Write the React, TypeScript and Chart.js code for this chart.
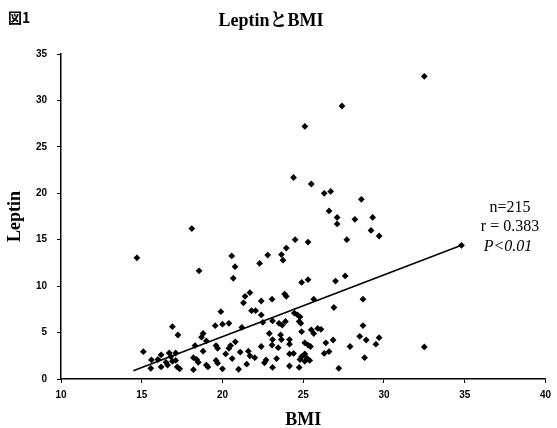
import React, { useEffect, useRef } from "react";
import { Chart, registerables } from "chart.js";

Chart.register(...registerables);

// BMI (x) values of each subject
const bmiValues: number[] = [
  32.5, 27.4, 25.1, 24.4, 25.5, 26.3, 26.7, 28.6, 26.6, 27.1, 27.1, 28.2, 29.3, 29.2, 29.7, 24.5, 25.3, 27.7,
  23.95, 23.65, 23.75, 22.8, 22.3, 18.1, 14.7, 18.55, 20.57, 20.78, 20.67, 24.9, 25.3, 27.0, 27.6, 34.8,
  21.4, 21.3, 21.7, 21.8, 22.05, 22.4, 23.07, 23.85, 23.95, 25.65, 26.9, 28.7, 19.9, 19.55, 20.0, 20.4, 21.2,
  16.9, 17.24, 22.4, 22.5, 23.1, 23.5, 23.7, 23.9, 24.45, 24.65, 24.8, 24.75, 24.85, 24.9, 25.5, 25.65, 25.9,
  26.1, 28.7,
  15.1, 15.6, 15.56, 16.2, 16.7, 16.8, 16.0, 16.5, 16.2, 16.6, 16.9, 17.1, 17.1, 17.2, 17.35, 18.3, 18.7, 19.0,
  18.8, 18.2, 18.4, 18.2, 18.8, 18.5, 19.0, 19.1, 19.6, 19.7, 19.6, 19.7, 20.0, 20.2, 20.4, 20.5, 20.6, 20.8,
  21.0, 21.1, 21.6, 21.7, 22.0, 21.5, 22.4,
  22.9, 23.1, 23.6, 23.65, 24.15, 24.15, 23.07, 23.45, 25.1, 25.3, 25.45, 26.4, 26.85, 28.5, 28.9, 29.7, 29.5,
  27.9, 24.15, 24.4, 25.1, 25.2, 25.4, 25.1, 24.9, 24.8, 26.3, 26.6, 28.8, 23.35, 22.6, 22.7, 23.1, 24.15,
  24.75, 27.2, 32.5,
];

// Leptin (y) values of each subject, same order as bmiValues
const leptinValues: number[] = [
  32.6, 29.4, 27.2, 21.7, 21.0, 20.0, 20.2, 19.35, 18.1, 17.4, 16.7, 17.2, 17.4, 16.0, 15.4, 15.0, 14.75, 15.0,
  14.1, 13.4, 12.8, 13.35, 12.45, 16.2, 13.05, 11.65, 13.25, 12.1, 10.85, 10.4, 10.7, 10.55, 11.1, 14.4,
  8.9, 8.2, 9.3, 7.36, 7.36, 8.4, 8.6, 9.15, 8.9, 8.6, 7.7, 8.6, 7.25, 5.74, 5.9, 6.0, 5.55,
  5.63, 4.74, 6.9, 6.1, 6.25, 6.0, 5.8, 6.2, 7.1, 6.9, 6.7, 6.2, 6.0, 5.1, 5.3, 4.9, 5.45,
  5.35, 5.75,
  2.94, 2.05, 1.15, 2.6, 2.8, 2.4, 2.1, 1.8, 1.3, 1.5, 1.9, 2.8, 2.0, 1.3, 1.1, 3.6, 4.5, 4.1,
  4.9, 2.3, 2.1, 1.0, 3.0, 1.8, 1.5, 1.3, 3.6, 3.3, 2.0, 1.7, 1.1, 2.7, 3.3, 3.6, 2.2, 4.0,
  1.05, 2.9, 3.0, 2.5, 2.3, 1.6, 3.5,
  4.9, 4.25, 4.75, 4.25, 4.25, 3.75, 3.65, 3.37, 3.9, 3.65, 3.5, 3.9, 4.2, 4.6, 4.2, 4.45, 3.75,
  3.5, 2.7, 2.75, 2.7, 2.3, 2.0, 1.9, 2.4, 2.1, 2.75, 2.95, 2.3, 2.2, 1.75, 2.05, 1.25, 1.4,
  1.25, 1.15, 3.45,
];

// Regression line end points
const regressionX: number[] = [14.48, 34.8];
const regressionY: number[] = [0.9, 14.4];

const xTickValues: number[] = [10, 15, 20, 25, 30, 35, 40];
const yTickValues: number[] = [0, 5, 10, 15, 20, 25, 30, 35];

const figureLabel = "図1";
const chartTitle = "LeptinとBMI";
const xAxisTitle = "BMI";
const yAxisTitle = "Leptin";
const statLines: string[] = ["n=215", "r = 0.383", "P<0.01"];

const SERIF = "'Liberation Serif', 'Noto Serif CJK JP', 'Noto Sans CJK JP', serif";

const textPlugin = {
  id: "textOverlay",
  afterDraw(chart: any) {
    const ctx: CanvasRenderingContext2D = chart.ctx;
    const area = chart.chartArea;
    ctx.save();
    ctx.fillStyle = "#000";

    ctx.textAlign = "left";
    ctx.textBaseline = "alphabetic";
    ctx.font = "bold 14px 'Noto Sans CJK JP', sans-serif";
    ctx.fillText(figureLabel, 8, 23);

    ctx.textAlign = "center";
    ctx.font = `bold 18px ${SERIF}`;
    ctx.fillText(chartTitle, 271, 26);

    ctx.font = `bold 18px ${SERIF}`;
    ctx.fillText(xAxisTitle, (area.left + area.right) / 2, 425);

    ctx.save();
    ctx.translate(15, (area.top + area.bottom) / 2);
    ctx.rotate(-Math.PI / 2);
    ctx.textBaseline = "middle";
    ctx.fillText(yAxisTitle, 0, 0);
    ctx.restore();

    ctx.textAlign = "center";
    ctx.textBaseline = "alphabetic";
    ctx.font = `16px ${SERIF}`;
    ctx.fillText(statLines[0], 510, 212);
    ctx.fillText(statLines[1], 510, 231);
    ctx.font = `italic 16px ${SERIF}`;
    ctx.fillText(statLines[2], 508, 251);

    ctx.restore();
  },
};

export default function App() {
  const canvasRef = useRef<HTMLCanvasElement | null>(null);

  useEffect(() => {
    const canvas = canvasRef.current;
    if (!canvas) return;

    const points = bmiValues.map((x, i) => ({ x, y: leptinValues[i] }));
    const linePoints = regressionX.map((x, i) => ({ x, y: regressionY[i] }));

    const tickFont = { family: "'Liberation Sans', Arial, sans-serif", size: 10, weight: "bold" as const };

    const chart = new Chart(canvas, {
      type: "scatter",
      data: {
        datasets: [
          {
            type: "line",
            label: "regression",
            data: linePoints,
            borderColor: "#000",
            borderWidth: 1.6,
            pointRadius: 0,
            fill: false,
          } as any,
          {
            type: "scatter",
            label: "Leptin",
            data: points,
            pointStyle: "rectRot",
            pointRadius: 3.4,
            backgroundColor: "#000",
            borderColor: "#000",
            borderWidth: 0,
          },
        ],
      },
      options: {
        responsive: false,
        animation: false,
        layout: { padding: { left: 0, top: 54, right: 7, bottom: 0 } },
        plugins: {
          legend: { display: false },
          title: { display: false },
          tooltip: { enabled: false },
        },
        scales: {
          x: {
            type: "linear",
            min: xTickValues[0],
            max: xTickValues[xTickValues.length - 1],
            afterFit: (scale: any) => {
              scale.height = 49;
            },
            afterBuildTicks: (scale: any) => {
              scale.ticks = xTickValues.map((v) => ({ value: v }));
            },
            ticks: {
              color: "#000",
              font: tickFont,
              padding: 6,
              maxRotation: 0,
            },
            grid: {
              display: true,
              drawOnChartArea: false,
              drawTicks: true,
              tickLength: 4,
              color: "#000",
              lineWidth: 1,
            },
            border: { display: true, color: "#000", width: 1.5 },
          },
          y: {
            type: "linear",
            min: yTickValues[0],
            max: yTickValues[yTickValues.length - 1],
            afterFit: (scale: any) => {
              scale.width = 61;
            },
            afterBuildTicks: (scale: any) => {
              scale.ticks = yTickValues.map((v) => ({ value: v }));
            },
            ticks: {
              color: "#000",
              font: tickFont,
              padding: 10,
            },
            grid: {
              display: true,
              drawOnChartArea: false,
              drawTicks: true,
              tickLength: 4,
              color: "#000",
              lineWidth: 1,
            },
            border: { display: true, color: "#000", width: 1.5 },
          },
        },
      },
      plugins: [textPlugin],
    });

    return () => {
      chart.destroy();
    };
  }, []);

  return (
    <div style={{ position: "absolute", left: 0, top: 0, width: 557, height: 428, background: "#fff" }}>
      <canvas ref={canvasRef} width={557} height={428} style={{ display: "block" }} />
    </div>
  );
}
